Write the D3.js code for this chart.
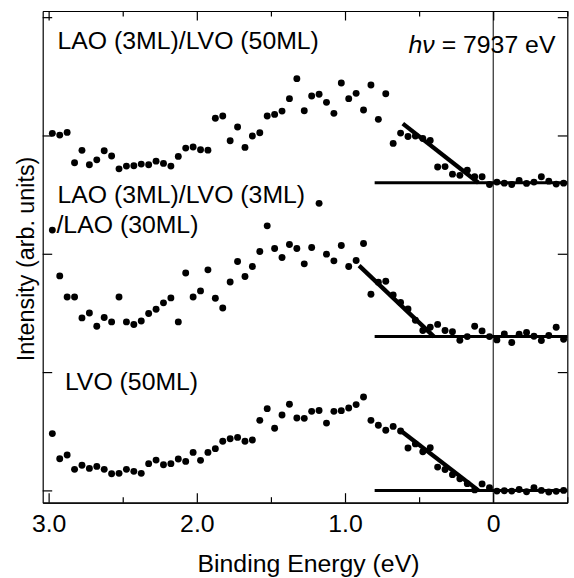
<!DOCTYPE html>
<html>
<head>
<meta charset="utf-8">
<script src="https://cdn.jsdelivr.net/npm/d3@7"></script>
<style>
  body { margin: 0; background: #fff; }
  svg { display: block; font-family: "Liberation Sans", Arial, sans-serif; }
  .axis path, .axis line { stroke: #000; stroke-width: 1.2; }
  .axis text { font-size: 24.8px; fill: #000; font-family: "Liberation Sans", Arial, sans-serif; }
</style>
</head>
<body>
<div id="chart"></div>
<script>
// Binding energy grid (eV)
const energy = [
  2.975, 2.925, 2.875, 2.825, 2.775, 2.725, 2.675, 2.625, 2.575, 2.525,
  2.475, 2.425, 2.375, 2.325, 2.275, 2.225, 2.175, 2.125, 2.075, 2.025,
  1.975, 1.925, 1.875, 1.825, 1.775, 1.725, 1.675, 1.625, 1.575, 1.525,
  1.475, 1.425, 1.375, 1.325, 1.275, 1.225, 1.175, 1.125, 1.075, 1.025,
  0.975, 0.925, 0.875, 0.825, 0.775, 0.725, 0.675, 0.625, 0.575, 0.525,
  0.475, 0.425, 0.375, 0.325, 0.275, 0.225, 0.175, 0.125, 0.075, 0.025,
  -0.025, -0.075, -0.125, -0.175, -0.225, -0.275, -0.325, -0.375, -0.425, -0.475
];

// LAO (3ML)/LVO (50ML), offset spectrum
const laoLvo50 = [
  3.018, 3.003, 3.026, 2.769, 2.874, 2.752, 2.794, 2.871, 2.826, 2.718,
  2.741, 2.744, 2.758, 2.752, 2.783, 2.764, 2.741, 2.823, 2.893, 2.902,
  2.879, 2.876, 3.145, 3.164, 2.955, 3.071, 2.899, 2.995, 3.023, 3.164,
  3.178, 3.206, 3.311, 3.480, 3.209, 3.333, 3.348, 3.280, 3.187, 3.443,
  3.311, 3.356, 3.215, 3.426, 3.136, 3.353, 2.933, 3.020, 2.991, 2.995,
  2.974, 2.957, 2.733, 2.737, 2.673, 2.663, 2.707, 2.651, 2.651, 2.585,
  2.606, 2.597, 2.586, 2.620, 2.595, 2.606, 2.651, 2.614, 2.589, 2.597
];

// LAO (3ML)/LVO (3ML)/LAO (30ML)
const laoLvo3Lao30 = [
  2.200, 1.813, 1.635, 1.635, 1.458, 1.500, 1.387, 1.461, 1.424, 1.635,
  1.424, 1.402, 1.432, 1.495, 1.531, 1.585, 1.627, 1.424, 1.838, 1.635,
  1.686, 1.864, 1.624, 1.542, 1.762, 1.935, 1.808, 1.893, 2.019, 2.236,
  2.045, 1.969, 2.079, 2.045, 1.915, 2.053, 2.426, 1.997, 1.940, 2.070,
  1.893, 1.943, 2.087, 1.658, 1.760, 1.768, 1.652, 1.589, 1.534, 1.438,
  1.351, 1.379, 1.403, 1.351, 1.341, 1.269, 1.300, 1.387, 1.348, 1.300,
  1.272, 1.322, 1.250, 1.320, 1.334, 1.303, 1.266, 1.309, 1.379, 1.277
];

// LVO (50ML)
const lvo50 = [
  0.480, 0.268, 0.299, 0.178, 0.212, 0.186, 0.203, 0.178, 0.141, 0.144,
  0.178, 0.161, 0.144, 0.226, 0.256, 0.217, 0.226, 0.265, 0.245, 0.321,
  0.254, 0.321, 0.353, 0.415, 0.437, 0.448, 0.415, 0.426, 0.592, 0.691,
  0.525, 0.637, 0.728, 0.612, 0.609, 0.668, 0.675, 0.569, 0.668, 0.674,
  0.696, 0.725, 0.789, 0.592, 0.550, 0.509, 0.541, 0.502, 0.358, 0.393,
  0.327, 0.360, 0.197, 0.176, 0.133, 0.099, 0.057, 0.004, 0.055, 0.023,
  -0.006, -0.003, -0.006, 0.008, -0.011, 0.023, 0.000, -0.014, -0.008, 0.000
];

// Leading-edge fits and background levels [energy, intensity]
const edgeFits = [
  [[0.61, 3.10], [0.10, 2.60]],
  [[0.905, 1.90], [0.40, 1.30]],
  [[0.63, 0.51], [0.10, 0.00]]
];
const backgrounds = [
  [[0.8, 2.60], [-0.5, 2.60]],
  [[0.8, 1.30], [-0.5, 1.30]],
  [[0.8, 0.00], [-0.5, 0.00]]
];

const xMajorTicks = [3, 2, 1, 0];
const xTickLabels = ['3.0', '2.0', '1.0', '0'];
const xMinorTicks = [2.5, 1.5, 0.5, -0.5];
const yTicks = [0, 1, 2, 3, 4];

const labels = [
  { text: 'LAO (3ML)/LVO (50ML)', e: 2.94, v: 3.73 },
  { text: 'LAO (3ML)/LVO (3ML)', e: 2.94, v: 2.431 },
  { text: '/LAO (30ML)', e: 2.947, v: 2.172 },
  { text: 'LVO (50ML)', e: 2.89, v: 0.852 }
];

const totalW = 574, totalH = 578;
const margin = { top: 11, right: 6.7, bottom: 75.3, left: 42.7 };
const width = totalW - margin.left - margin.right;
const height = totalH - margin.top - margin.bottom;

const svg = d3.select('#chart').append('svg')
  .attr('width', totalW)
  .attr('height', totalH);

const g = svg.append('g')
  .attr('transform', `translate(${margin.left},${margin.top})`);

const x = d3.scaleLinear().domain([3.04, -0.5]).range([0, width]);
const y = d3.scaleLinear().domain([-0.104, 4.052]).range([height, 0]);

// Zero energy line
g.append('line')
  .attr('x1', x(0)).attr('x2', x(0))
  .attr('y1', 0).attr('y2', height)
  .attr('stroke', '#000').attr('stroke-width', 1);

// Axes (ticks pointing inward on all four sides)
g.append('g').attr('class', 'axis')
  .attr('transform', `translate(0,${height})`)
  .call(d3.axisBottom(x).tickValues(xMajorTicks).tickSizeInner(-9.5).tickSizeOuter(0)
    .tickPadding(11.5).tickFormat((d, i) => xTickLabels[i]));
g.append('g').attr('class', 'axis')
  .attr('transform', `translate(0,${height})`)
  .call(d3.axisBottom(x).tickValues(xMinorTicks).tickSizeInner(-5.5).tickSizeOuter(0).tickFormat(''));
g.append('g').attr('class', 'axis')
  .call(d3.axisTop(x).tickValues(xMajorTicks).tickSizeInner(-9.5).tickSizeOuter(0).tickFormat(''));
g.append('g').attr('class', 'axis')
  .call(d3.axisTop(x).tickValues(xMinorTicks).tickSizeInner(-5.5).tickSizeOuter(0).tickFormat(''));
g.append('g').attr('class', 'axis')
  .call(d3.axisLeft(y).tickValues(yTicks).tickSizeInner(-9.5).tickSizeOuter(0).tickFormat(''));
g.append('g').attr('class', 'axis')
  .attr('transform', `translate(${width},0)`)
  .call(d3.axisRight(y).tickValues(yTicks).tickSizeInner(-9.5).tickSizeOuter(0).tickFormat(''));

// Fit lines
const line = d3.line().x(d => x(d[0])).y(d => y(d[1]));
g.selectAll('.bg-line').data(backgrounds).join('path')
  .attr('class', 'bg-line')
  .attr('fill', 'none').attr('stroke', '#000').attr('stroke-width', 3)
  .attr('d', line);
g.selectAll('.fit-line').data(edgeFits).join('path')
  .attr('class', 'fit-line')
  .attr('fill', 'none').attr('stroke', '#000').attr('stroke-width', 4.3)
  .attr('d', line);

// Data points
const spectra = [laoLvo50, laoLvo3Lao30, lvo50];
spectra.forEach(vals => {
  g.append('g').selectAll('circle')
    .data(vals.map((v, i) => [energy[i], v]))
    .join('circle')
    .attr('cx', d => x(d[0]))
    .attr('cy', d => y(d[1]))
    .attr('r', 3.45)
    .attr('fill', '#000');
});

// Sample labels
g.selectAll('.sample-label').data(labels).join('text')
  .attr('class', 'sample-label')
  .attr('x', d => x(d.e))
  .attr('y', d => y(d.v))
  .style('font-size', '24.8px')
  .text(d => d.text);

// Photon energy
const hv = g.append('text')
  .attr('x', x(-0.42))
  .attr('y', y(3.70))
  .attr('text-anchor', 'end')
  .style('font-size', '24.8px');
hv.append('tspan').style('font-style', 'italic').text('h\u03BD');
hv.append('tspan').text(' = 7937 eV');

// Axis titles
svg.append('text')
  .attr('x', margin.left + width / 2 + 3.5)
  .attr('y', 571.5)
  .attr('text-anchor', 'middle')
  .style('font-size', '24.8px')
  .text('Binding Energy (eV)');

svg.append('text')
  .attr('transform', `translate(33.5,259) rotate(-90)`)
  .attr('text-anchor', 'middle')
  .style('font-size', '23.3px')
  .text('Intensity (arb. units)');
</script>
</body>
</html>
